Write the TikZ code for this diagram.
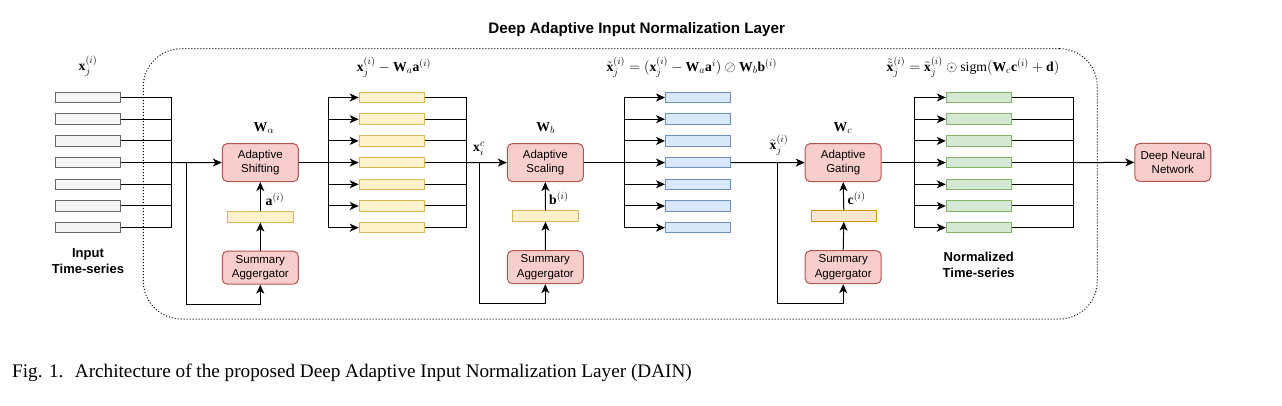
\documentclass[tikz,border=0pt]{standalone}
\usepackage{amsmath}
\usepackage{fontspec}
\setmainfont{Liberation Serif}
\newfontfamily\arial{Liberation Sans}
\DeclareMathSizes{13.7}{13.7}{10}{8}
\usetikzlibrary{arrows.meta,positioning}
\definecolor{ingray}{HTML}{F5F5F5}
\definecolor{indraw}{HTML}{666666}
\definecolor{yfill}{HTML}{FFF2CC}
\definecolor{ydraw}{HTML}{D6B656}
\definecolor{bfill}{HTML}{DAE8FC}
\definecolor{bdraw}{HTML}{6C8EBF}
\definecolor{gfill}{HTML}{D5E8D4}
\definecolor{gdraw}{HTML}{82B366}
\definecolor{ofill}{HTML}{FFE6CC}
\definecolor{odraw}{HTML}{D79B00}
\definecolor{pfill}{HTML}{F8CECC}
\definecolor{pdraw}{HTML}{B85450}
\tikzset{
  series/.style={draw=#1, line width=1pt, minimum width=65pt, minimum height=10.5pt, inner sep=0pt},
  inrect/.style={series=indraw, fill=ingray},
  yrect/.style={series=ydraw, fill=yfill},
  brect/.style={series=bdraw, fill=bfill},
  grect/.style={series=gdraw, fill=gfill},
  pinkbox/.style={draw=pdraw, fill=pfill, line width=1pt, rounded corners=5pt, minimum width=76pt, minimum height=38pt, align=center, inner sep=1pt, font=\arial\fontsize{11.5}{14.5}\selectfont},
  sumbox/.style={pinkbox, minimum height=33pt},
  bar/.style={line width=1pt, minimum width=65.5pt, minimum height=10.5pt, inner sep=0pt},
  conn/.style={line width=1pt, black},
  arr/.style={conn, -{Stealth[length=9pt,width=8pt,inset=2.5pt]}},
  mlab/.style={inner sep=0pt, font=\fontsize{13.7}{16}\selectfont},
  blab/.style={inner sep=0pt, align=center, font=\arial\bfseries\fontsize{13}{15.5}\selectfont},
}
\begin{document}
\begin{tikzpicture}[x=1pt,y=-1pt]
\useasboundingbox (0,0) rectangle (1282,406);
% outer dotted container
\node[draw, dotted, line width=1pt, rounded corners=38pt, minimum width=954pt, minimum height=270.3pt, inner sep=0pt] (layer) at (620.3,183.85) {};
\node[blab, font=\arial\bfseries\fontsize{15.2}{18}\selectfont] (title) at (636.7,30) {Deep Adaptive Input Normalization Layer};

% bus coordinates
\coordinate (bus1) at (171.3,0);
\coordinate (bus2) at (328.3,0);
\coordinate (bus3) at (466.3,0);
\coordinate (bus4) at (624.3,0);
\coordinate (bus5) at (914,0);
\coordinate (bus6) at (1073.3,0);

% series rectangles
\foreach \k in {1,...,7}{
  \pgfmathsetmacro{\yy}{97.5+(\k-1)*21.7}
  \node[inrect] (in\k) at (87.5,\yy) {};
  \node[yrect] (ys\k) at (391.7,\yy) {};
  \node[brect] (bs\k) at (698,\yy) {};
  \node[grect] (gs\k) at (978.8,\yy) {};
}

% processing boxes
\node[pinkbox] (shift) at (260.3,162.6) {Adaptive\\Shifting};
\node[pinkbox] (scale) at (545.3,162.6) {Adaptive\\Scaling};
\node[pinkbox] (gate) at (843.2,162.6) {Adaptive\\Gating};
\node[pinkbox] (dnn) at (1172.8,162.4) {Deep Neural\\Network};
\node[sumbox] (sa1) at (260.3,267.7) {Summary\\Aggergator};
\node[sumbox] (sa2) at (545.3,267.2) {Summary\\Aggergator};
\node[sumbox] (sa3) at (843.2,267.2) {Summary\\Aggergator};
\node[bar, draw=ydraw, fill=yfill] (abar) at (260.3,216.8) {};
\node[bar, draw=ydraw, fill=yfill] (bbar) at (545.5,216.0) {};
\node[bar, draw=odraw, fill=ofill] (cbar) at (843.8,216.0) {};

% branch corner coordinates
\coordinate (br1) at (186.3,162.6);
\coordinate (lo1) at (260.3,304.8);
\coordinate (br2) at (479.3,162.6);
\coordinate (lo2) at (545.3,303);
\coordinate (br3) at (777.3,162.6);
\coordinate (lo3) at (843.2,303);

% stage 1: inputs -> shifting
\foreach \k in {1,...,7}{
  \draw[conn] (in\k.east) -- (in\k.east -| bus1);
  \draw[arr] (in\k.west -| bus2) -- (ys\k.west);
  \draw[conn] (ys\k.east) -- (ys\k.east -| bus3);
  \draw[arr] (bs\k.west -| bus4) -- (bs\k.west);
  \draw[arr] (gs\k.west -| bus5) -- (gs\k.west);
  \draw[conn] (gs\k.east) -- (gs\k.east -| bus6);
}
\draw[conn] (in1.east -| bus1) -- (in7.east -| bus1);
\draw[arr] (in4.east -| bus1) -- (shift.west);
\draw[arr] (br1) |- (lo1) -- (sa1.south);
\draw[arr] (sa1.north) -- (abar.south);
\draw[arr] (abar.north) -- (shift.south);
\draw[conn] (shift.east) -- (shift.east -| bus2);
\draw[conn] (ys1.west -| bus2) -- (ys7.west -| bus2);

% stage 2: scaling
\draw[conn] (ys1.east -| bus3) -- (ys7.east -| bus3);
\draw[arr] (ys4.east -| bus3) -- (scale.west);
\draw[arr] (br2) |- (lo2) -- (sa2.south);
\draw[arr] (sa2.north) -- (bbar.south);
\draw[arr] (bbar.north) -- (scale.south);
\draw[conn] (scale.east) -- (scale.east -| bus4);
\draw[conn] (bs1.west -| bus4) -- (bs7.west -| bus4);

% stage 3: gating
\draw[arr] (bs4.east) -- (gate.west);
\draw[arr] (br3) |- (lo3) -- (sa3.south);
\draw[arr] (sa3.north) -- (cbar.south);
\draw[arr] (cbar.north) -- (gate.south);
\draw[conn] (gate.east) -- (gate.east -| bus5);
\draw[conn] (gs1.west -| bus5) -- (gs7.west -| bus5);

% output
\draw[conn] (gs1.east -| bus6) -- (gs7.east -| bus6);
\draw[arr] (gs4.east -| bus6) -- (dnn.west);

% labels
\node[mlab] (lx) at (88,66) {$\mathbf{x}_j^{(i)}$};
\node[mlab] (l1) at (394,67) {$\mathbf{x}_j^{(i)}-\mathbf{W}_a\mathbf{a}^{(i)}$};
\node[mlab] (l2) at (691.7,67) {$\tilde{\mathbf{x}}_j^{(i)}=(\mathbf{x}_j^{(i)}-\mathbf{W}_a\mathbf{a}^{i})\oslash\mathbf{W}_b\mathbf{b}^{(i)}$};
\node[mlab] (l3) at (973,67) {$\tilde{\tilde{\mathbf{x}}}_j^{(i)}=\tilde{\mathbf{x}}_j^{(i)}\odot\mathrm{sigm}(\mathbf{W}_c\mathbf{c}^{(i)}+\mathbf{d})$};
\node[mlab] (lwa) at (264,128) {$\mathbf{W}_\alpha$};
\node[mlab] (lwb) at (545.7,128) {$\mathbf{W}_b$};
\node[mlab] (lwc) at (843,128) {$\mathbf{W}_c$};
\node[mlab, anchor=west] (la) at (265.5,199) {$\mathbf{a}^{(i)}$};
\node[mlab, anchor=west] (lb) at (549,198) {$\mathbf{b}^{(i)}$};
\node[mlab, anchor=west] (lc) at (847.5,198) {$\mathbf{c}^{(i)}$};
\node[mlab] (lxc) at (479,149) {$\mathbf{x}_i^{c}$};
\node[mlab] (lxt) at (779,145) {$\tilde{\mathbf{x}}_j^{(i)}$};
\node[blab] (lin) at (88,261) {Input\\Time-series};
\node[blab] (lnorm) at (978.7,265) {Normalized\\Time-series};

% caption
\node[anchor=base west, inner sep=0pt, font=\fontsize{19.2}{22}\selectfont] (cap) at (12,377) {Fig. 1.\hspace{0.6em}Architecture of the proposed Deep Adaptive Input Normalization Layer (DAIN)};
\end{tikzpicture}
\end{document}
